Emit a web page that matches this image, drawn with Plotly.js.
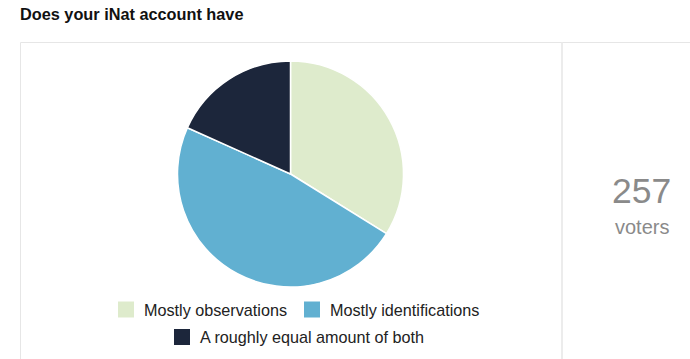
<!DOCTYPE html>
<html><head><meta charset="utf-8">
<script src="https://cdn.plot.ly/plotly-3.0.1.min.js"></script>
<style>html,body{margin:0;padding:0;background:#fff}#c{width:690px;height:359px}</style>
</head><body><div id="c"></div>
<script>
const titleText = "Does your iNat account have";
const labels = ["Mostly observations", "Mostly identifications", "A roughly equal amount of both"];
const votes = [87, 123, 47];
const colors = ["#deebcc", "#61b0d1", "#1c263b"];
const totalLabel = "voters";

const W = 690, H = 359;
const px = x => x / W, py = y => 1 - y / H;
const total = votes.reduce((a, b) => a + b, 0);

const shapes = [
  {type:'line', xref:'paper', yref:'paper', x0:px(20.5), x1:px(20.5), y0:py(42.5), y1:0, line:{color:'#e6e6e6', width:1}},
  {type:'line', xref:'paper', yref:'paper', x0:px(20.5), x1:1, y0:py(42.5), y1:py(42.5), line:{color:'#e6e6e6', width:1}},
  {type:'line', xref:'paper', yref:'paper', x0:px(562), x1:px(562), y0:py(42.5), y1:0, line:{color:'#ececec', width:2}}
];
const annotations = [
  {text: String(total), xref:'paper', yref:'paper', x:px(641.5), y:py(191), xanchor:'center', yanchor:'middle', showarrow:false, font:{family:'Liberation Sans, Arial', size:35.5, color:'#8a8a8a'}},
  {text: totalLabel, xref:'paper', yref:'paper', x:px(642), y:py(227), xanchor:'center', yanchor:'middle', showarrow:false, font:{family:'Liberation Sans, Arial', size:20, color:'#8a8a8a'}}
];
// custom legend
const legPos = [[118, 309.5], [304, 309.5], [174, 337]];
labels.forEach((lab, i) => {
  const [x, y] = legPos[i];
  shapes.push({type:'rect', xref:'paper', yref:'paper', x0:px(x), x1:px(x+16), y0:py(y-8), y1:py(y+8), fillcolor:colors[i], line:{width:0}});
  annotations.push({text: lab, xref:'paper', yref:'paper', x:px(x+24), y:py(y), xanchor:'left', yanchor:'middle', showarrow:false, font:{family:'Liberation Sans, Arial', size:16.2, color:'#222'}});
});

const data = [{
  type:'pie', values: votes, labels: labels, sort:false, direction:'clockwise', rotation:0,
  marker:{colors: colors, line:{color:'#ffffff', width:1.5}},
  textinfo:'none', hoverinfo:'label+value+percent', showlegend:false,
  domain:{x:[px(177.5), px(403.5)], y:[py(287), py(61)]}
}];
const layout = {
  width: W, height: H, margin:{l:0, r:0, t:0, b:0},
  paper_bgcolor:'#fff', plot_bgcolor:'#fff', showlegend:false,
  title:{text: titleText, x: px(20), xanchor:'left', xref:'container', y: 1 - 14/H, yanchor:'middle', yref:'container',
    font:{family:'Liberation Sans, Arial', size:16.3, weight:'bold', color:'#111'}},
  shapes: shapes, annotations: annotations
};
Plotly.newPlot('c', data, layout, {displayModeBar:false, staticPlot:true});
</script></body></html>
